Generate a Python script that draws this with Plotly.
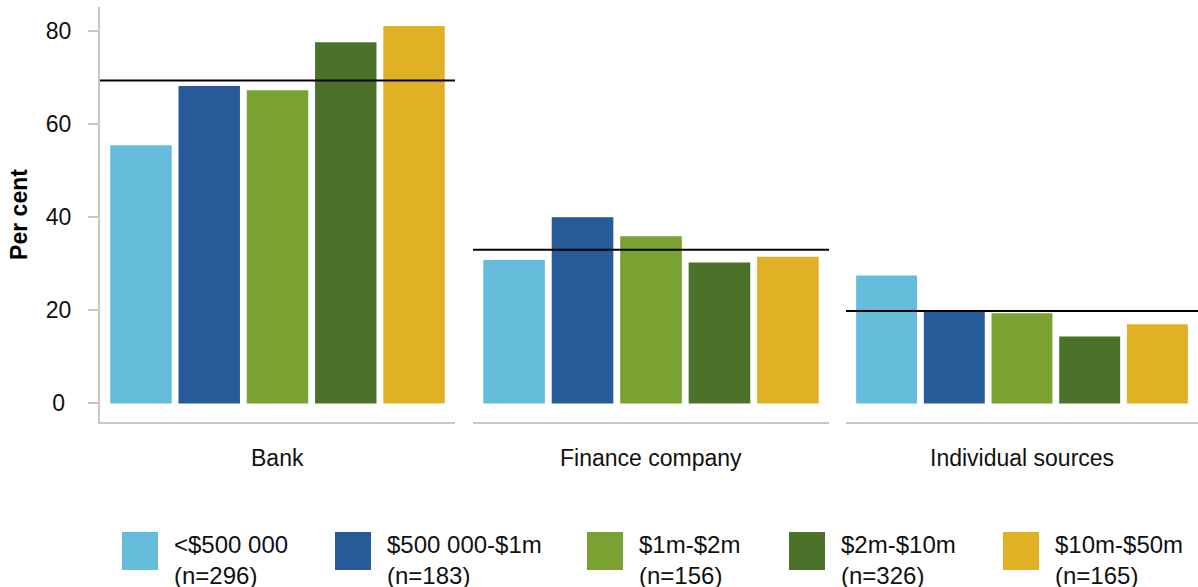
import plotly.graph_objects as go

categories = ["Bank", "Finance company", "Individual sources"]
series_names = ["<$500 000<br>(n=296)", "$500 000-$1m<br>(n=183)", "$1m-$2m<br>(n=156)",
                "$2m-$10m<br>(n=326)", "$10m-$50m<br>(n=165)"]
colors = ["#66BCDB", "#275A99", "#7AA232", "#4C7129", "#E0B124"]

# values per category (one list per panel), in series order
bank = [55.5, 68.2, 67.3, 77.6, 81.1]
finance = [30.8, 40.0, 35.9, 30.3, 31.5]
individual = [27.5, 20.1, 19.4, 14.4, 17.0]
averages = [69.4, 33.0, 19.85]

panel_values = [bank, finance, individual]
y_ticks = [0, 20, 40, 60, 80]
y_ticktext = ["0\u2008", "20", "40", "60", "80"]

W, H = 1198, 587
L, R, T, B = 100, 0, 7, 165
pw = W - L - R
ph = H - T - B
domains = [
    [0, 355 / pw],
    [373 / pw, 729 / pw],
    [746 / pw, 1.0],
]

def px_y(y):
    return (H - B - y) / ph

def px_x(x):
    return (x - L) / pw

fig = go.Figure()
FONT = "Liberation Sans, Arial, sans-serif"

for p, vals in enumerate(panel_values):
    xa = "x" if p == 0 else f"x{p+1}"
    for s, v in enumerate(vals):
        fig.add_trace(go.Bar(
            x=[s], y=[v], xaxis=xa, yaxis="y",
            marker=dict(color=colors[s], line=dict(width=0)),
            width=0.9, showlegend=False, name=series_names[s].replace("<br>", " "),
        ))
    fig.add_shape(type="line", xref=f"{xa} domain", yref="y",
                  x0=0, x1=1, y0=averages[p], y1=averages[p],
                  line=dict(color="black", width=2))
    fig.add_annotation(xref=f"{xa} domain", yref="paper", x=0.5, y=px_y(458),
                       text=categories[p], showarrow=False,
                       font=dict(size=23, color="#111111", family=FONT),
                       yanchor="middle")

axis_common = dict(range=[-0.6, 4.6], showticklabels=False, ticks="",
                   showgrid=False, zeroline=False, showline=True,
                   linecolor="#c8c8c8", linewidth=2, anchor="y", fixedrange=True)
fig.update_layout(
    xaxis=dict(domain=domains[0], **axis_common),
    xaxis2=dict(domain=domains[1], **axis_common),
    xaxis3=dict(domain=domains[2], **axis_common),
    yaxis=dict(range=[-4, 85.2], tickvals=y_ticks, ticktext=y_ticktext,
               ticks="outside", ticklen=10,
               tickwidth=2, tickcolor="#c8c8c8", showgrid=False, zeroline=False,
               showline=True, linecolor="#c8c8c8", linewidth=2,
               ticklabelstandoff=12,
               tickfont=dict(size=23, color="#111111", family=FONT),
               title=dict(text="<b>Per cent</b>", standoff=12,
                          font=dict(size=23, color="black", family=FONT))),
    width=W, height=H,
    margin=dict(l=L, r=R, t=T, b=B, autoexpand=False),
    plot_bgcolor="white", paper_bgcolor="white",
    bargap=0.1, showlegend=False,
    font=dict(family=FONT),
)

# legend with large square swatches
swatch_x = [122, 335, 587, 789, 1003]
for s in range(5):
    x0 = swatch_x[s]
    fig.add_shape(type="rect", xref="paper", yref="paper",
                  x0=px_x(x0), x1=px_x(x0 + 36),
                  y0=px_y(532), y1=px_y(570),
                  fillcolor=colors[s], line=dict(width=0))
    fig.add_annotation(xref="paper", yref="paper",
                       x=px_x(x0 + 50), y=px_y(560),
                       text=series_names[s], showarrow=False, align="left",
                       xanchor="left", yanchor="middle",
                       font=dict(size=24, color="#111111", family=FONT))

fig.write_html("out.html", config={"displayModeBar": False},
               post_script="document.body.style.margin='0';")
